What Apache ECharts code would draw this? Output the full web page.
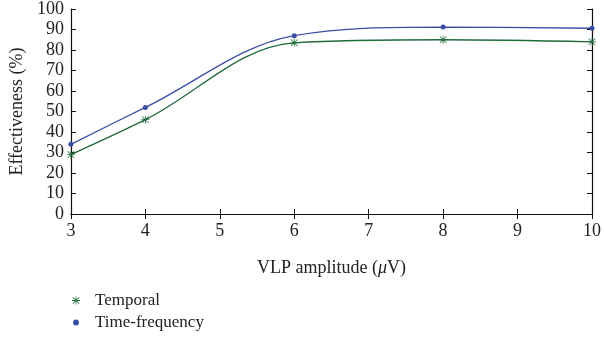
<!DOCTYPE html>
<html>
<head>
<meta charset="utf-8">
<script src="https://cdn.jsdelivr.net/npm/echarts@6/dist/echarts.min.js"></script>
<style>
  html, body { margin: 0; padding: 0; background: #fff; }
  #chart { width: 604px; height: 341px; }
</style>
</head>
<body>
<div id="chart"></div>
<script>
var amplitude = [3, 4, 6, 8, 10];
var temporal = [29, 46, 83.5, 85, 84];
var timeFreq = [34, 52, 87, 91.2, 90.6];
var xTicks = [3, 4, 5, 6, 7, 8, 9, 10];

var starPath = 'path://M4.5 0h1v10h-1z M0 4.5h10v1h-10z M0.6 1.3L1.3 0.6L9.4 8.7L8.7 9.4z M0.6 8.7L8.7 0.6L9.4 1.3L1.3 9.4z';
var serif = 'Liberation Serif';

function pairs(xs, ys) {
    return xs.map(function (x, i) { return [x, ys[i]]; });
}

var myChart = echarts.init(document.getElementById('chart'));
var option = {
    animation: false,
    textStyle: { fontFamily: serif },
    grid: { left: 70, right: 8, top: 8, bottom: 127 },
    legend: {
        orient: 'vertical',
        left: 66,
        top: 287,
        itemGap: 5,
        itemWidth: 8,
        itemHeight: 8,
        textStyle: { fontFamily: serif, fontSize: 17, color: '#222', padding: [0, 0, 0, 10] },
        data: [
            { name: 'Temporal', icon: starPath },
            { name: 'Time-frequency', icon: 'circle', itemStyle: { borderWidth: 2, borderColor: '#fff' } }
        ]
    },
    xAxis: [{
        type: 'value', min: 3, max: 10, interval: 1,
        name: '{n|VLP amplitude (}{i|μ}{n|V)}',
        nameLocation: 'middle', nameGap: 45,
        nameTextStyle: {
            rich: {
                n: { fontFamily: serif, fontSize: 18, color: '#222' },
                i: { fontFamily: serif, fontSize: 18, color: '#222', fontStyle: 'italic' }
            }
        },
        axisLine: { lineStyle: { color: '#111', width: 1.2 } },
        axisTick: { inside: true, length: 5, lineStyle: { color: '#111' } },
        axisLabel: { fontFamily: serif, fontSize: 18, color: '#222', margin: 8 },
        splitLine: { show: false }
    }, {
        type: 'value', min: 3, max: 10, interval: 1, position: 'top',
        axisLine: { lineStyle: { color: '#111', width: 1.2 } },
        axisTick: { inside: true, length: 5, lineStyle: { color: '#111' } },
        axisLabel: { show: false },
        splitLine: { show: false }
    }],
    yAxis: [{
        type: 'value', min: 0, max: 100, interval: 10,
        name: 'Effectiveness (%)',
        nameLocation: 'middle', nameGap: 44,
        nameTextStyle: { fontFamily: serif, fontSize: 18, color: '#222' },
        axisLine: { show: true, lineStyle: { color: '#111', width: 1.2 } },
        axisTick: { show: true, inside: true, length: 5, lineStyle: { color: '#111' } },
        axisLabel: { fontFamily: serif, fontSize: 18, color: '#222', margin: 7 },
        splitLine: { show: false }
    }, {
        type: 'value', min: 0, max: 100, interval: 10, position: 'right',
        axisLine: { show: true, lineStyle: { color: '#111', width: 1.2 } },
        axisTick: { show: true, inside: true, length: 5, lineStyle: { color: '#111' } },
        axisLabel: { show: false },
        splitLine: { show: false }
    }],
    series: [{
        name: 'Temporal',
        type: 'line',
        smooth: 0.35,
        data: pairs(amplitude, temporal),
        symbol: starPath,
        symbolSize: 8,
        color: '#1f6b3a',
        lineStyle: { width: 1.3, color: '#1f6b3a' },
        itemStyle: { color: '#1f6b3a' }
    }, {
        name: 'Time-frequency',
        type: 'line',
        smooth: 0.35,
        data: pairs(amplitude, timeFreq),
        symbol: 'circle',
        symbolSize: 5,
        color: '#3a4ea6',
        lineStyle: { width: 1.3, color: '#3a4ea6' },
        itemStyle: { color: '#3a4ea6' }
    }]
};
myChart.setOption(option);

window.addEventListener('resize', function () {
    myChart.resize();
});
</script>
</body>
</html>
